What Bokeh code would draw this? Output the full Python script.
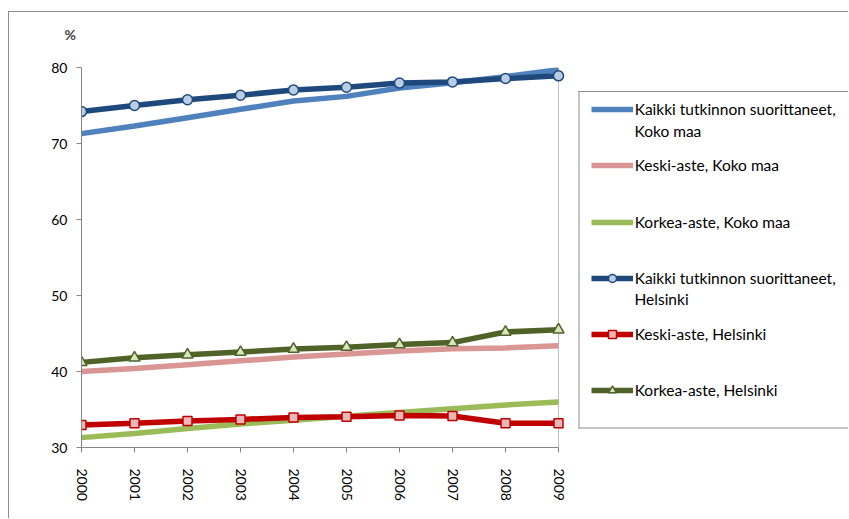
from bokeh.plotting import figure
from bokeh.models import (Range1d, FixedTicker, SingleIntervalTicker, Legend, LegendItem,
                          Label, BoxAnnotation)
from bokeh.embed import file_html
from bokeh.resources import INLINE

years = [2000, 2001, 2002, 2003, 2004, 2005, 2006, 2007, 2008, 2009]
kaikki_koko = [71.3, 72.3, 73.4, 74.5, 75.6, 76.2, 77.3, 78.0, 78.8, 79.7]
keski_koko = [40.0, 40.4, 40.9, 41.4, 41.9, 42.3, 42.7, 43.0, 43.1, 43.4]
korkea_koko = [31.3, 31.85, 32.5, 33.1, 33.6, 34.1, 34.6, 35.1, 35.6, 36.0]
kaikki_hki = [74.2, 75.0, 75.75, 76.35, 77.05, 77.4, 77.95, 78.1, 78.55, 78.9]
keski_hki = [32.95, 33.2, 33.5, 33.7, 33.95, 34.05, 34.2, 34.15, 33.2, 33.2]
korkea_hki = [41.2, 41.8, 42.2, 42.55, 42.95, 43.2, 43.55, 43.8, 45.2, 45.5]
legend_first = ["Kaikki tutkinnon suorittaneet,", "Keski-aste, Koko maa",
                "Korkea-aste, Koko maa", "Kaikki tutkinnon suorittaneet,",
                "Keski-aste, Helsinki", "Korkea-aste, Helsinki"]
legend_second = ["Koko maa", "", "", "Helsinki", "", ""]
y_min, y_max = 30, 80

FONT = "Lato"
FS = "14px"
LFS = "15.5px"

# canvas starts at page x 9, y 12 (margin + 1px border)
W, H = 840, 507
FL, FT, FB = 72, 55, 435            # frame left/top/bottom in canvas px
PLOT_W = 477                        # pixel width of the 2000..2009 span
frame_w = W - FL
x_end = years[0] + (years[-1] - years[0]) * frame_w / PLOT_W

p = figure(width=W, height=H, output_backend="svg", toolbar_location=None,
           x_range=Range1d(years[0], x_end), y_range=Range1d(y_min, y_max),
           min_border_left=FL, min_border_right=0, min_border_top=FT,
           min_border_bottom=H - FB)
p.margin = (11, 0, 0, 8)
p.styles = {"border-left": "1px solid #8c8c8c", "border-top": "1px solid #8c8c8c"}
p.background_fill_color = "white"
p.border_fill_color = "white"
p.outline_line_color = None

p.title.text = "%\n"
p.title.text_font = FONT
p.title.text_font_size = FS
p.title.text_font_style = "bold"
p.title.align = "left"
p.title.offset = -17
p.title.standoff = 16

p.xaxis.ticker = FixedTicker(ticks=years)
p.xaxis.bounds = (years[0], years[-1])
p.xaxis.major_label_orientation = "vertical"
p.yaxis.ticker = SingleIntervalTicker(interval=10, num_minor_ticks=2)
for ax in (p.xaxis[0], p.yaxis[0]):
    ax.axis_line_color = "#868686"
    ax.major_tick_line_color = "#868686"
    ax.major_tick_in = 0
    ax.major_tick_out = 5
    ax.minor_tick_in = 0
    ax.minor_tick_out = 0
    ax.major_label_text_font = FONT
    ax.major_label_text_font_size = FS
    ax.major_label_text_color = "black"
p.xaxis.major_label_standoff = 16
p.yaxis.major_label_standoff = 9
p.xgrid.ticker = FixedTicker(ticks=[years[-1]])
p.xgrid.bounds = (y_min, y_max)
p.xgrid.grid_line_color = "#bfbfbf"
p.ygrid.bounds = (years[0], years[-1])
p.ygrid.grid_line_color = "#c8c8c8"
p.ygrid.minor_grid_line_color = "#c8c8c8"

LW = 5.5
r1 = p.line(years, kaikki_koko, line_color="#4f81bd", line_width=LW)
r2 = p.line(years, keski_koko, line_color="#d99694", line_width=LW)
r3 = p.line(years, korkea_koko, line_color="#9bbb59", line_width=LW)
r4 = p.line(years, kaikki_hki, line_color="#1f497d", line_width=LW)
r4m = p.scatter(years, kaikki_hki, marker="circle", size=10, fill_color="#b9cde5",
                line_color="#1f497d", line_width=1.5)
r5 = p.line(years, keski_hki, line_color="#c00000", line_width=LW)
r5m = p.scatter(years, keski_hki, marker="square", size=9, fill_color="#e6b9b8",
                line_color="#c00000", line_width=1.5)
r6 = p.line(years, korkea_hki, line_color="#4f6228", line_width=LW)
r6m = p.scatter(years, korkea_hki, marker="triangle", size=11, fill_color="#d7e4bd",
                line_color="#4f6228", line_width=1.5)

# legend box edges as thin filled strips (its right side lies past the page edge)
BL, BR, BT, BB = 497.5, 900, 356, 19.5
for l, r, t, b in ((BL - 0.5, BR, BT + 0.5, BT - 0.5),
                   (BL - 0.5, BR, BB + 0.5, BB - 0.5),
                   (BL - 0.5, BL + 0.5, BT + 0.5, BB - 0.5)):
    p.add_layout(BoxAnnotation(left=l, right=r, top=t, bottom=b,
                               left_units="screen", right_units="screen",
                               top_units="screen", bottom_units="screen",
                               fill_color="#8c8c8c", fill_alpha=1, line_alpha=0))

groups = [[r1], [r2], [r3], [r4, r4m], [r5, r5m], [r6, r6m]]
centers = [337.7, 282.0, 225.3, 169.3, 113.0, 57.0]   # item centre, px above frame bottom
IH = 20
for first, second, g, cy in zip(legend_first, legend_second, groups, centers):
    lg = Legend(items=[LegendItem(label=first, renderers=g)],
                location=(509.7, cy - IH / 2),
                glyph_width=42, glyph_height=IH, label_height=IH, label_standoff=2,
                padding=0, margin=0, spacing=0,
                border_line_alpha=0, background_fill_alpha=0,
                label_text_font=FONT, label_text_font_size=LFS, label_text_color="black")
    p.add_layout(lg)
    if second:
        p.add_layout(Label(x=553, y=cy - 20.7, x_units="screen", y_units="screen",
                           text=second, text_font=FONT, text_font_size=LFS,
                           text_color="black", text_baseline="middle", text_align="left"))

open("out.html", "w").write(file_html(p, INLINE))
